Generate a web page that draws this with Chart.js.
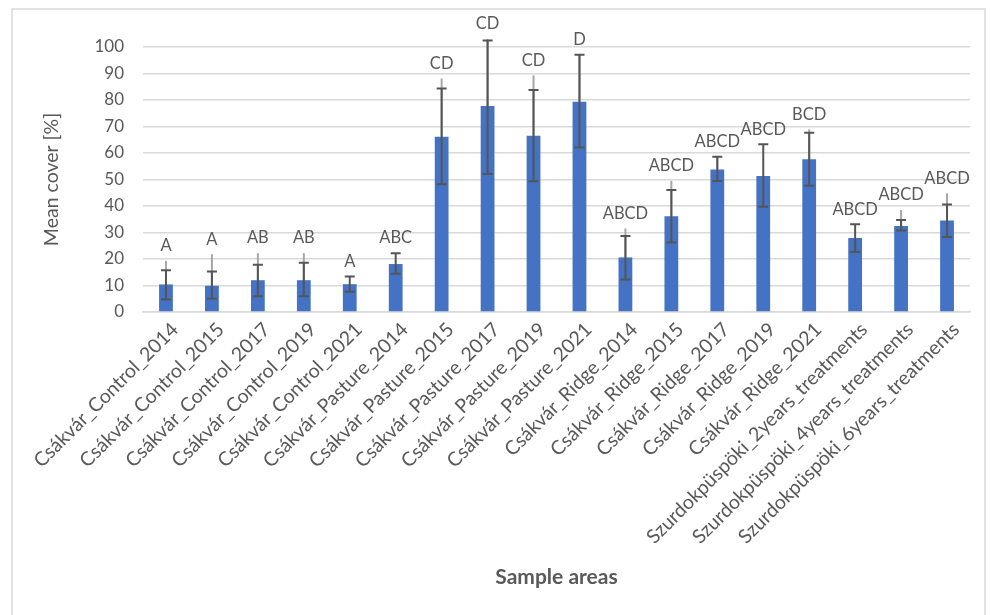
<!DOCTYPE html>
<html>
<head>
<meta charset="utf-8">
<script src="https://cdn.jsdelivr.net/npm/chart.js@4/dist/chart.umd.min.js"></script>
<style>
  body { margin: 0; background: #fff; }
  #wrap { width: 995px; height: 615px; position: relative; }
</style>
</head>
<body>
<div id="wrap"><canvas id="chart"></canvas></div>
<script>
// categories
const areas = [
    "Csákvár_Control_2014", "Csákvár_Control_2015", "Csákvár_Control_2017", "Csákvár_Control_2019",
    "Csákvár_Control_2021", "Csákvár_Pasture_2014", "Csákvár_Pasture_2015", "Csákvár_Pasture_2017",
    "Csákvár_Pasture_2019", "Csákvár_Pasture_2021", "Csákvár_Ridge_2014", "Csákvár_Ridge_2015",
    "Csákvár_Ridge_2017", "Csákvár_Ridge_2019", "Csákvár_Ridge_2021",
    "Szurdokpüspöki_2years_treatments", "Szurdokpüspöki_4years_treatments", "Szurdokpüspöki_6years_treatments"
];
// mean cover (%)
const meanCover = [10.4, 9.9, 12.0, 12.0, 10.5, 18.1, 66.1, 77.7, 66.5, 79.3, 20.6, 36.1, 53.8, 51.3, 57.6, 27.9, 32.5, 34.5];
// error bar ends
const errHigh = [15.8, 15.3, 17.8, 18.6, 13.4, 22.2, 84.3, 102.5, 83.8, 97.1, 28.7, 46.0, 58.6, 63.3, 67.6, 33.1, 34.7, 40.6];
const errLow = [4.7, 5.0, 5.9, 5.9, 7.6, 14.4, 48.2, 52.1, 49.3, 62.1, 12.3, 26.2, 49.4, 39.7, 47.6, 22.6, 30.8, 28.3];
// where the label leader lines end (null = no leader line)
const leaderTop = [19.3, 21.8, 22.2, 22.2, null, null, 88.1, 103, 89.3, 97.1, 31.5, 49.5, 58.8, null, 68.9, null, 38.5, 44.8];
// significance letters
const letters = ["A", "A", "AB", "AB", "A", "ABC", "CD", "CD", "CD", "D", "ABCD", "ABCD", "ABCD", "ABCD", "BCD", "ABCD", "ABCD", "ABCD"];
// y ticks
const yTicks = [0, 10, 20, 30, 40, 50, 60, 70, 80, 90, 100];

const textColor = "#595959";
const fontFamily = "Lato, 'Open Sans', sans-serif";

// frame, leader lines, error bars and letters
const extras = {
    id: "extras",
    beforeDraw(chart) {
        const ctx = chart.ctx;
        ctx.save();
        ctx.fillStyle = "#fff";
        ctx.fillRect(0, 0, chart.width, chart.height);
        ctx.strokeStyle = "#d9d9d9";
        ctx.lineWidth = 1.5;
        ctx.strokeRect(12, 9, 973, 620);
        ctx.restore();
    },
    afterDatasetsDraw(chart) {
        const ctx = chart.ctx;
        const meta = chart.getDatasetMeta(0);
        const y = chart.scales.y;
        ctx.save();
        meta.data.forEach((bar, i) => {
            const x = bar.x;
            // leader line
            if (leaderTop[i] !== null) {
                ctx.strokeStyle = "#a6a6a6";
                ctx.lineWidth = 2;
                ctx.beginPath();
                ctx.moveTo(x, y.getPixelForValue(leaderTop[i]));
                ctx.lineTo(x, y.getPixelForValue(meanCover[i]));
                ctx.stroke();
            }
            // error bar
            const yh = y.getPixelForValue(errHigh[i]);
            const yl = y.getPixelForValue(errLow[i]);
            ctx.strokeStyle = "#555555";
            ctx.lineWidth = 2;
            ctx.beginPath();
            ctx.moveTo(x, yh); ctx.lineTo(x, yl);
            ctx.moveTo(x - 5, yh); ctx.lineTo(x + 5, yh);
            ctx.moveTo(x - 5, yl); ctx.lineTo(x + 5, yl);
            ctx.stroke();
            // letters
            const top = Math.max(errHigh[i], leaderTop[i] === null ? 0 : leaderTop[i]);
            ctx.fillStyle = textColor;
            ctx.font = "16.5px " + fontFamily;
            ctx.textAlign = "center";
            ctx.textBaseline = "middle";
            ctx.fillText(letters[i], x, y.getPixelForValue(top) - 15);
        });
        ctx.restore();
    }
};

new Chart(document.getElementById("chart"), {
    type: "bar",
    data: {
        labels: areas,
        datasets: [{
            data: meanCover,
            backgroundColor: "#4472c4",
            barPercentage: 0.3,
            categoryPercentage: 1
        }]
    },
    options: {
        responsive: true,
        maintainAspectRatio: false,
        animation: false,
        layout: { padding: { top: 47, right: 25, left: 0, bottom: 0 } },
        plugins: { legend: { display: false }, tooltip: { enabled: false } },
        scales: {
            x: {
                grid: { display: false, drawTicks: false },
                border: { color: "#d9d9d9", width: 1.5 },
                ticks: {
                    color: textColor,
                    font: { family: fontFamily, size: 19.5 },
                    minRotation: 45,
                    maxRotation: 45,
                    autoSkip: false,
                    padding: 6,
                    labelOffset: 9
                },
                title: {
                    display: true,
                    text: "Sample areas",
                    color: textColor,
                    font: { family: fontFamily, size: 21, weight: "bold" },
                    padding: { top: 0, bottom: 25 }
                },
                afterFit(scale) { scale.height = 303; }
            },
            y: {
                min: 0,
                max: 100,
                afterBuildTicks(scale) { scale.ticks = yTicks.map(v => ({ value: v })); },
                grid: { color: "#d9d9d9", lineWidth: 1.5, drawTicks: false },
                border: { display: false },
                ticks: {
                    color: textColor,
                    font: { family: fontFamily, size: 17 },
                    padding: 19
                },
                title: {
                    display: true,
                    text: "Mean cover [%]",
                    color: textColor,
                    font: { family: fontFamily, size: 19.5 },
                    padding: { top: 40, bottom: 0 }
                },
                afterFit(scale) { scale.width = 143; }
            }
        }
    },
    plugins: [extras]
});
</script>
</body>
</html>
